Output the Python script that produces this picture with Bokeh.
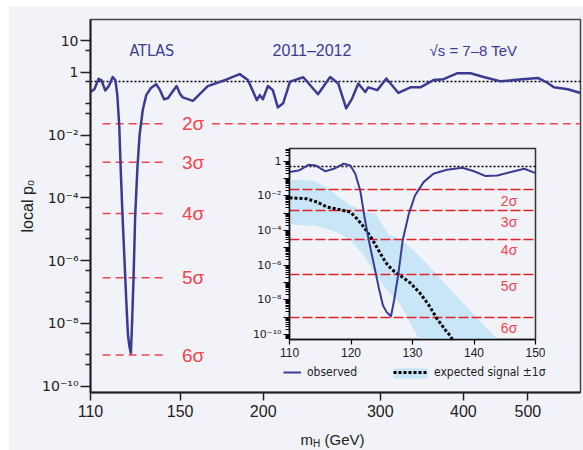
import numpy as np
from bokeh.plotting import figure
from bokeh.models import (Range1d, FixedTicker, CustomJSTickFormatter, BasicTickFormatter,
                          Label, Legend, LegendItem, ColumnDataSource, GridBox, BoxAnnotation)
from bokeh.core.properties import value
from bokeh.embed import file_html
from bokeh.resources import INLINE

# ---------------- data ----------------
obs_mass = [110.0, 111.5, 113.1, 114.2, 115.8, 117.2, 118.8, 119.9, 120.7, 121.5, 122.2, 122.9,
            123.7, 124.5, 125.2, 125.8, 126.5, 127.0, 127.7, 128.4, 129.4, 130.4, 131.8, 133.4,
            135.6, 138.1, 140.0, 141.9, 143.8, 146.0, 148.2, 150.0, 151.4, 156.8, 165.1, 176.3,
            184.4, 189.7, 195.7, 197.7, 199.8, 203.3, 206.8, 210.4, 214.3, 219.5, 229.8, 241.8,
            252.2, 259.4, 266.6, 272.2, 278.0, 284.8, 287.8, 296.9, 306.4, 319.4, 333.0, 344.7,
            360.6, 373.4, 392.0, 410.0, 429.1, 455.4, 476.1, 517.7, 535.7, 547.1, 574.3, 600.0]
obs_log10_p0 = [-0.63, -0.54, -0.21, -0.25, -0.58, -0.44, -0.15, -0.25, -0.73, -1.69, -3.23, -4.58,
                -5.92, -7.27, -8.33, -8.71, -8.95, -8.04, -6.50, -4.58, -3.04, -1.98, -1.21, -0.73,
                -0.50, -0.38, -0.58, -0.86, -0.83, -0.63, -0.44, -0.69, -0.80, -0.91, -0.44, -0.23,
                -0.06, -0.25, -0.89, -0.73, -0.86, -0.44, -0.57, -1.12, -0.99, -0.30, -0.16, -0.70,
                -0.15, -0.36, -1.15, -0.83, -0.36, -0.63, -0.48, -0.57, -0.20, -0.66, -0.48, -0.48,
                -0.25, -0.22, -0.03, -0.03, -0.15, -0.29, -0.25, -0.18, -0.34, -0.48, -0.54, -0.66]

exp_mass = [110.0, 112.8, 114.5, 116.1, 118.3, 119.9, 121.0, 122.1, 123.4, 124.5, 125.6, 126.7,
            128.0, 129.7, 131.3, 132.7, 134.0, 135.4, 136.1, 137.0]
exp_log10_p0 = [-2.11, -2.17, -2.36, -2.65, -2.81, -2.94, -3.33, -3.81, -4.48, -5.15, -5.83, -6.27,
                -6.60, -7.04, -7.65, -8.33, -9.10, -9.77, -10.06, -10.60]

band_mass = [110, 112, 114, 116, 118, 120, 122, 124, 126, 128, 130, 132, 134, 136, 138, 140, 142, 144]
band_upper_log10 = [-1.07, -1.07, -1.15, -1.50, -2.05, -2.55, -2.90, -3.05, -4.20, -4.50, -5.10,
                    -5.80, -6.55, -7.35, -8.10, -8.85, -9.60, -10.35]
band_lower_log10 = [-3.61, -3.71, -3.71, -3.90, -4.15, -4.60, -5.40, -6.55, -7.50, -8.23, -9.60,
                    -10.80, -11.0, -11.0, -11.0, -11.0, -11.0, -11.0]

sigma_labels = ["2σ", "3σ", "4σ", "5σ", "6σ"]
sigma_p0 = [2.275e-2, 1.350e-3, 3.167e-5, 2.867e-7, 9.866e-10]
reference_p0 = [0.5]

main_x_ticks = [110, 150, 200, 300, 400, 500]
main_y_labelled = [10.0, 1.0, 1e-2, 1e-4, 1e-6, 1e-8, 1e-10]
main_y_minor = [1e-1, 1e-3, 1e-5, 1e-7, 1e-9] + [5 * 10.0 ** k for k in range(-10, 1)]
inset_x_ticks = [110, 120, 130, 140, 150]
inset_y_major = [10.0 ** k for k in range(-10, 1)]
inset_y_minor = [m * 10.0 ** k for k in range(-11, 1) for m in range(2, 10)]

# ---------------- style ----------------
BG = "#f2f3f8"
NAVY = "#3b3b94"
RED_MAIN = "#f0444e"
RED_IN = "#e3222c"
BAND = "#c9e6f8"
FONT = "Liberation Sans"
DJV = "DejaVu Sans"
COND = "DejaVu Sans Condensed"
INK = "#222222"

sup_js = """
const e = Math.round(Math.log10(tick));
const sup = {"-":"\\u207b","0":"\\u2070","1":"\\u00b9","2":"\\u00b2","3":"\\u00b3","4":"\\u2074",
             "5":"\\u2075","6":"\\u2076","7":"\\u2077","8":"\\u2078","9":"\\u2079"};
if (e === 1) return "10";
if (e === 0) return "1";
if (e % 2 !== 0) return "";
return "10" + String(e).split("").map(c => sup[c]).join("");
"""

obs_src = ColumnDataSource(dict(m=obs_mass, p=[10.0 ** v for v in obs_log10_p0]))
exp_src = ColumnDataSource(dict(m=exp_mass, p=[10.0 ** v for v in exp_log10_p0]))
band_src = ColumnDataSource(dict(m=band_mass, hi=[10.0 ** v for v in band_upper_log10],
                                 lo=[10.0 ** v for v in band_lower_log10]))

# ---------------- main figure ----------------
p = figure(width=575, height=444, x_axis_type="log", y_axis_type="log",
           x_range=Range1d(110, 600), y_range=Range1d(10 ** -10.2, 10 ** 1.68),
           output_backend="svg", toolbar_location=None,
           min_border_left=82, min_border_right=3, min_border_top=13, min_border_bottom=58,
           background_fill_color=BG, border_fill_color=BG,
           outline_line_color="#444444", outline_line_width=1.5)
p.grid.visible = False

xa = p.xaxis[0]
xa.ticker = FixedTicker(ticks=main_x_ticks, minor_ticks=[])
xa.formatter = BasicTickFormatter()
xa.major_tick_out = 8
xa.major_tick_in = 0
xa.minor_tick_out = 0
xa.minor_tick_in = 0
xa.axis_line_width = 2
xa.axis_line_color = INK
xa.major_tick_line_width = 1.5
xa.major_tick_line_color = INK
xa.major_label_text_font = FONT
xa.major_label_text_font_size = "16px"
xa.major_label_text_color = INK
xa.major_label_standoff = 4

ya = p.yaxis[0]
ya.ticker = FixedTicker(ticks=main_y_labelled, minor_ticks=main_y_minor)
ya.formatter = CustomJSTickFormatter(code=sup_js)
ya.major_tick_out = 10
ya.major_tick_in = 0
ya.minor_tick_out = 5
ya.minor_tick_in = 0
ya.axis_line_width = 2
ya.axis_line_color = INK
ya.major_tick_line_width = 1.5
ya.minor_tick_line_width = 1.5
ya.major_tick_line_color = INK
ya.minor_tick_line_color = INK
ya.major_label_text_font = DJV
ya.major_label_text_font_size = "14px"
ya.major_label_text_color = INK
ya.major_label_standoff = 2
ya.axis_label = "local p₀"
ya.axis_label_text_font = FONT
ya.axis_label_text_font_size = "16px"
ya.axis_label_text_font_style = "normal"
ya.axis_label_text_color = INK
ya.axis_label_standoff = 3

# sigma lines (main)
seg_x0 = [114.7] * 5 + [167.4]
seg_x1 = [143.5] * 5 + [600.0]
seg_y = sigma_p0 + [sigma_p0[0]]
p.segment(x0=seg_x0, x1=seg_x1, y0=seg_y, y1=seg_y, line_color=RED_MAIN,
          line_width=1.5, line_dash="8 5")
p.text(x=[151] * 5, y=sigma_p0, text=sigma_labels, text_color=RED_MAIN,
       text_font=value(FONT), text_font_size="19px", text_baseline="middle", text_align="left")
p.hspan(y=reference_p0, line_color="black", line_width=1.4, line_dash="2 2")
p.line(x="m", y="p", source=obs_src, line_color=NAVY, line_width=2.5, line_join="round")

for txt, sx, fnt, size in [("ATLAS", 39, COND, "16px"), ("2011–2012", 182, FONT, "16px"),
                           ("√s = 7–8 TeV", 339, FONT, "15px")]:
    p.add_layout(Label(x=sx, y=342, x_units="screen", y_units="screen", text=txt,
                       text_font=fnt, text_font_size=size, text_color=NAVY,
                       text_baseline="alphabetic"))

# ---------------- inset figure ----------------
ins = figure(width=305, height=249, y_axis_type="log",
             x_range=Range1d(110, 150), y_range=Range1d(10 ** -10.29, 10 ** 0.73),
             output_backend="svg", toolbar_location=None,
             min_border_left=49, min_border_right=10, min_border_top=8, min_border_bottom=50,
             background_fill_color=None, background_fill_alpha=0,
             border_fill_color=None, border_fill_alpha=0,
             outline_line_color="#333333", outline_line_width=1.5)
ins.grid.visible = False

ixa = ins.xaxis[0]
ixa.ticker = FixedTicker(ticks=inset_x_ticks, minor_ticks=[])
ixa.major_tick_out = 5
ixa.major_tick_in = 0
ixa.minor_tick_out = 0
ixa.axis_line_width = 1.5
ixa.axis_line_color = "#111111"
ixa.major_tick_line_width = 1.2
ixa.major_label_text_font = FONT
ixa.major_label_text_font_size = "12px"
ixa.major_label_text_color = INK
ixa.major_label_standoff = 3

iya = ins.yaxis[0]
iya.ticker = FixedTicker(ticks=inset_y_major, minor_ticks=inset_y_minor)
iya.formatter = CustomJSTickFormatter(code=sup_js)
iya.major_tick_out = 6
iya.major_tick_in = 0
iya.minor_tick_out = 4
iya.minor_tick_in = 0
iya.axis_line_width = 1.5
iya.axis_line_color = "#111111"
iya.major_tick_line_width = 1.2
iya.minor_tick_line_width = 1.0
iya.major_label_text_font = DJV
iya.major_label_text_font_size = "11px"
iya.major_label_text_color = INK
iya.major_label_standoff = 2

ins.varea(x="m", y1="lo", y2="hi", source=band_src, fill_color=BAND, fill_alpha=1.0)
ins.hspan(y=sigma_p0, line_color=RED_IN, line_width=1.3, line_dash="10 3")
ins.text(x=[145.7] * 5, y=sigma_p0, text=sigma_labels, text_color=RED_MAIN,
         text_font=value(FONT), text_font_size="14px", text_baseline="top", text_align="center",
         y_offset=3)
ins.hspan(y=reference_p0, line_color="black", line_width=1.3, line_dash="2 2")
ins.line(x="m", y="p", source=exp_src, line_color="black", line_width=3, line_dash="3 2")
ins.line(x="m", y="p", source=obs_src, line_color=NAVY, line_width=2, line_join="round")

# ---------------- overlay (x label, inset legend) ----------------
# its ranges hold none of the data, so the renderers below only feed the legend glyphs
ov = figure(width=282, height=89, x_range=Range1d(0, 1), y_range=Range1d(0, 1),
            output_backend="svg", toolbar_location=None,
            x_axis_location=None, y_axis_location=None, min_border=0,
            min_border_left=0, min_border_right=0, min_border_top=0, min_border_bottom=0,
            background_fill_color=None, background_fill_alpha=0,
            border_fill_color=None, border_fill_alpha=0, outline_line_color=None)
ov.grid.visible = False

for txt, sx, sy, size in [("m", 20, 10, "15px"), ("H", 32.5, 6, "10px"), ("(GeV)", 44, 10, "15px")]:
    ov.add_layout(Label(x=sx, y=sy, x_units="screen", y_units="screen", text=txt,
                        text_font=FONT, text_font_size=size, text_color=INK,
                        text_baseline="alphabetic"))

# light-blue swatch behind the expected-signal legend glyph
ov.add_layout(BoxAnnotation(left=113, right=147, bottom=71, top=81,
                            left_units="screen", right_units="screen",
                            bottom_units="screen", top_units="screen",
                            fill_color=BAND, fill_alpha=1.0, line_color=None))

d_obs = ov.line(x="m", y="p", source=obs_src, line_color=NAVY, line_width=2)
d_band = ov.quad(left="m", right="m", bottom="lo", top="hi", source=band_src,
                 fill_color=BAND, line_color=None)
d_exp = ov.line(x="m", y="p", source=exp_src, line_color="black", line_width=3, line_dash="3 2")

leg_common = dict(padding=0, spacing=0, margin=0, glyph_height=10, label_height=12,
                  border_line_color=None, background_fill_alpha=0,
                  label_text_font=COND, label_text_font_size="12px",
                  label_text_color=INK)
leg1 = Legend(items=[LegendItem(label=value("observed"), renderers=[d_obs])],
              location=(3, 70), glyph_width=18, label_standoff=6, **leg_common)
leg2 = Legend(items=[LegendItem(label=value("expected signal ±1σ"), renderers=[d_band, d_exp])],
              location=(113, 70), glyph_width=34, label_standoff=7, **leg_common)
ov.add_layout(leg1)
ov.add_layout(leg2)

# page grid: columns 0|8|240|280|545|562|583, rows 0|6|140|360|389|449|450
layout = GridBox(children=[(p, 1, 1, 5, 5), (ins, 2, 2, 2, 2), (ov, 3, 3, 2, 2)],
                 rows=["6px", "134px", "220px", "29px", "60px", "1px"],
                 cols=["8px", "232px", "40px", "265px", "17px", "21px"])

with open("out.html", "w") as f:
    f.write(file_html(layout, INLINE))
